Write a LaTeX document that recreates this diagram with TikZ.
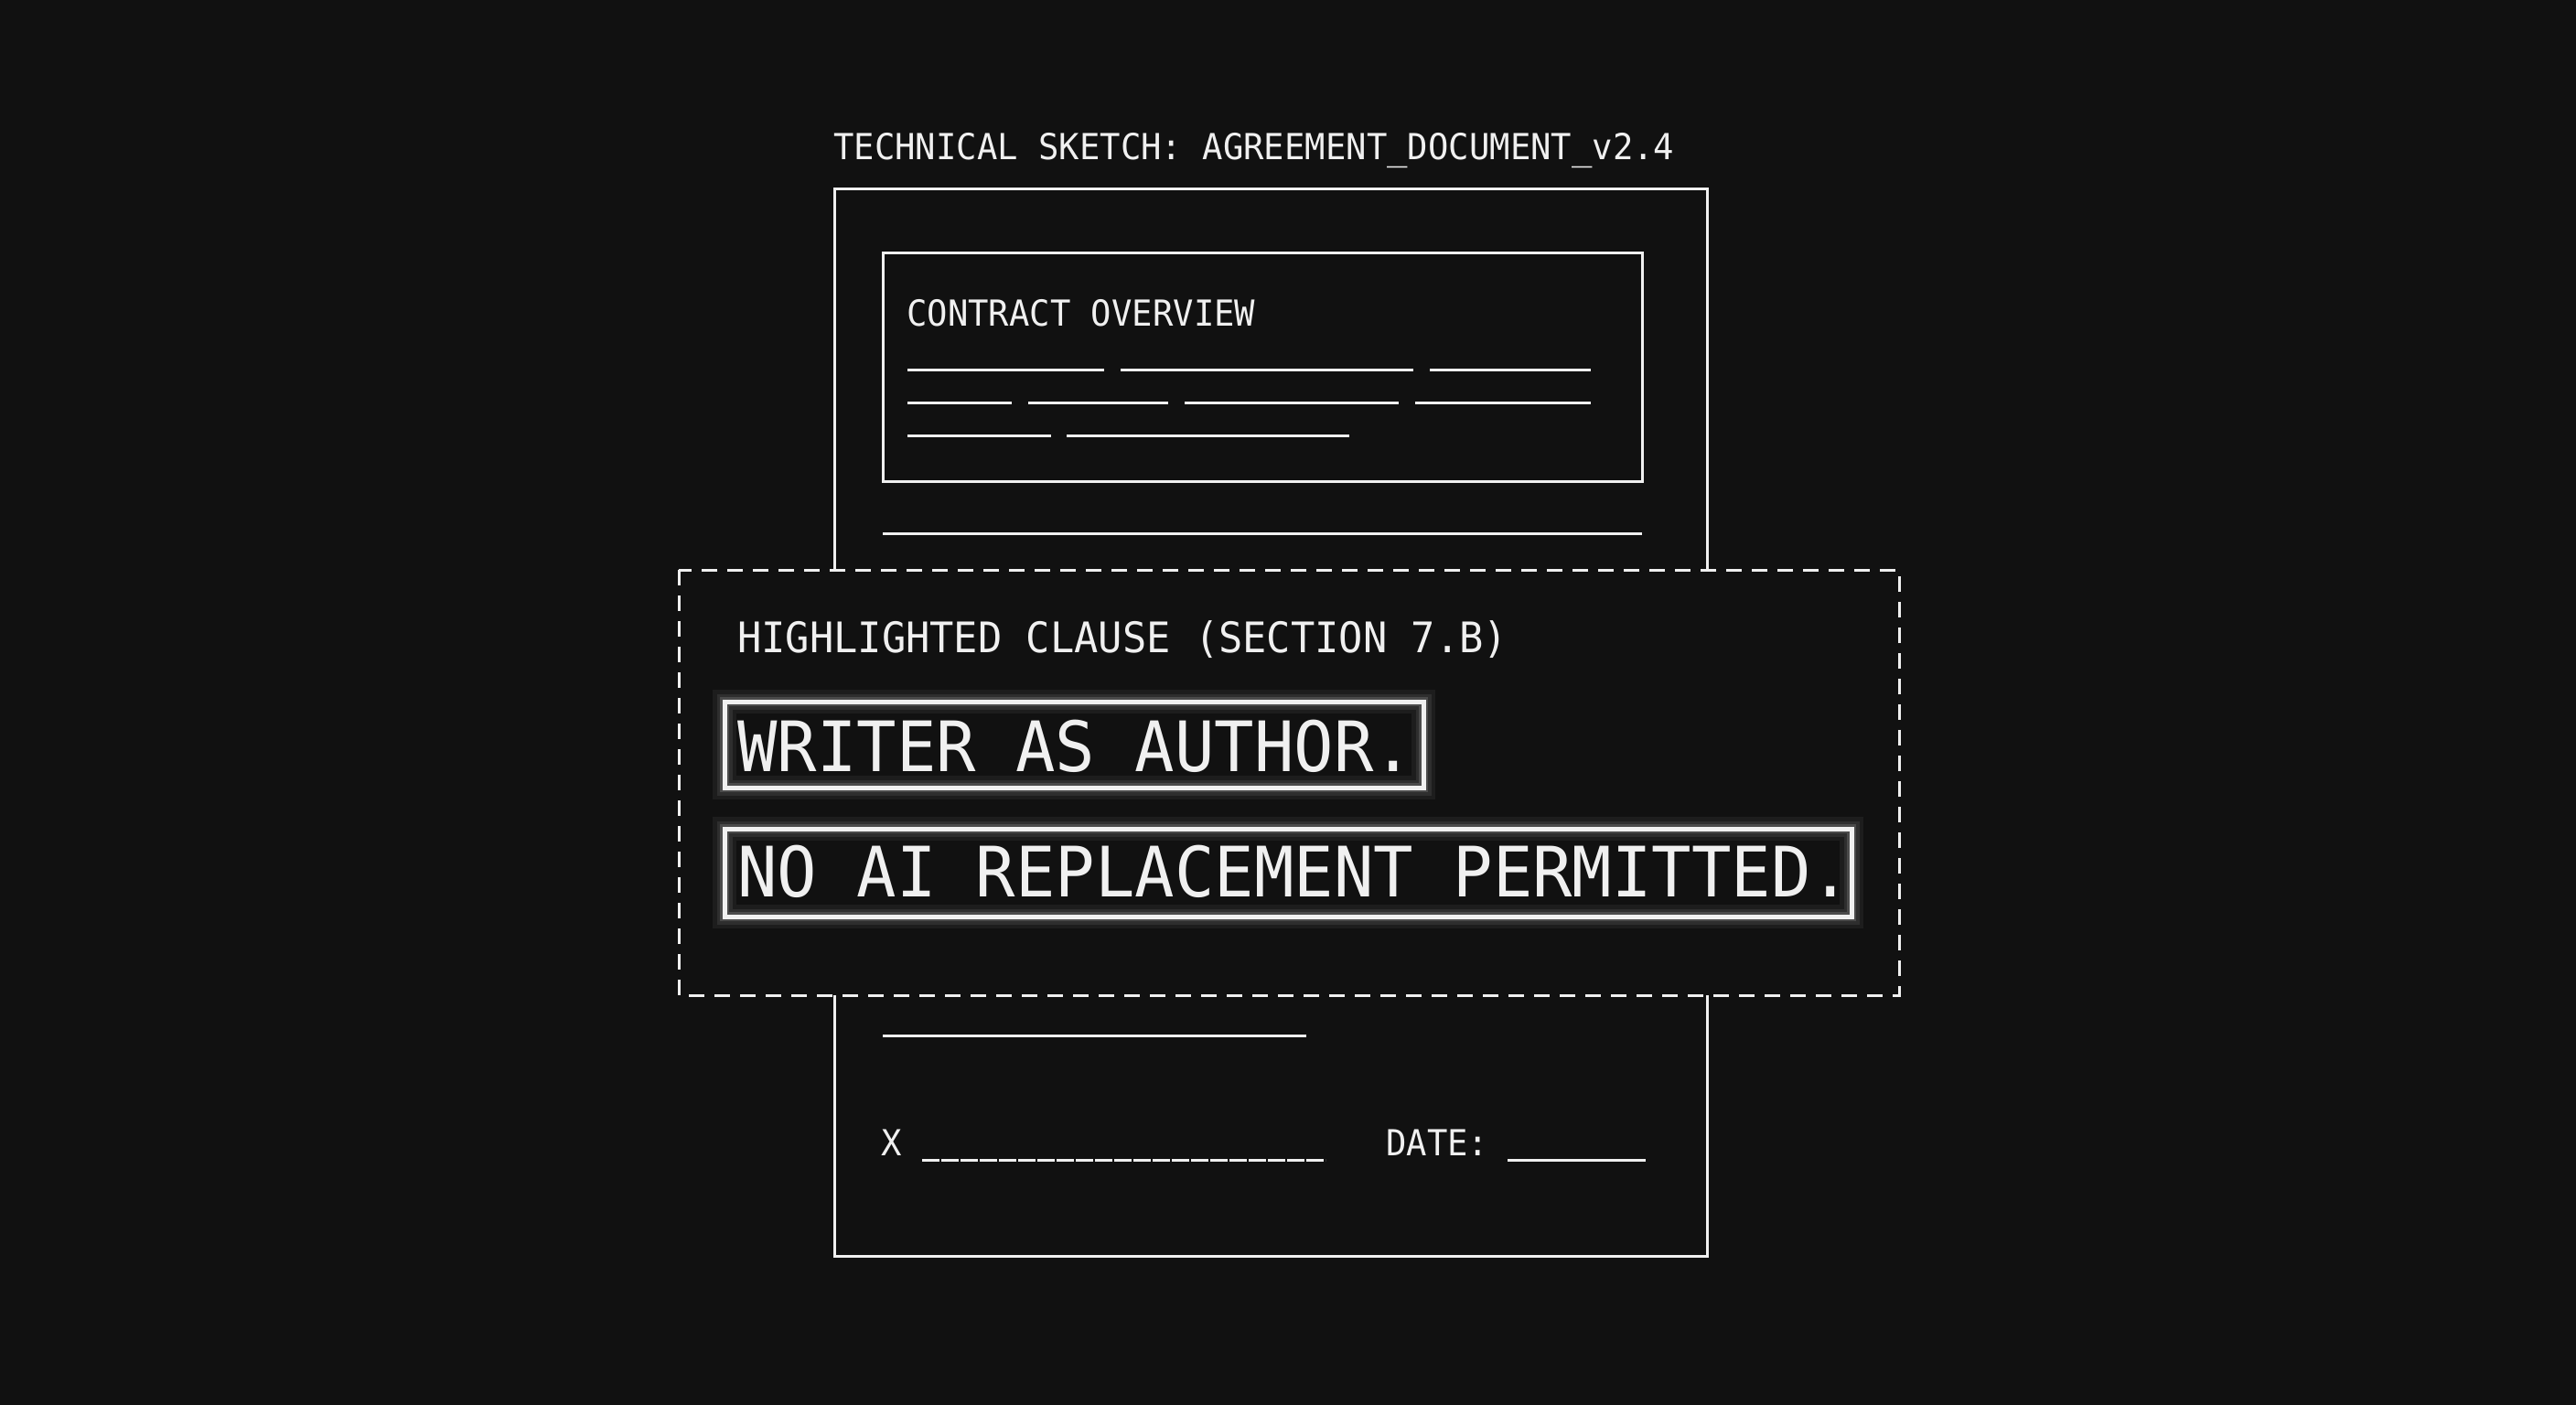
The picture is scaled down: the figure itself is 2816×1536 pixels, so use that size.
\documentclass[tikz,border=0pt]{standalone}
\usepackage{fontspec}
\newfontfamily\sketchfont[FakeStretch=0.95]{DejaVu Sans Mono}
\definecolor{bg}{RGB}{17,17,17}
\definecolor{ink}{RGB}{240,240,240}

\begin{document}
\begin{tikzpicture}[x=1pt, y=-1pt]
        \tikzstyle{sheet} = [draw=ink, line width=3pt]
        \tikzstyle{rule} = [draw=ink, line width=3pt]
        \tikzstyle{clausebox} = [draw=ink, fill=bg, line width=3pt, dash pattern=on 17pt off 11pt]
        \tikzstyle{glowbox} = [draw=ink, line width=5pt,
            preaction={draw=white, opacity=0.05, line width=26pt},
            preaction={draw=white, opacity=0.08, line width=17pt},
            preaction={draw=white, opacity=0.14, line width=10pt}]
        \tikzstyle{smalltext} = [inner sep=0pt, anchor=base west, text=ink, font=\sketchfont\fontsize{39.2}{40}\selectfont]
        \tikzstyle{headtext} = [smalltext, font=\sketchfont\fontsize{46}{46}\selectfont]
        \tikzstyle{bigtext} = [smalltext, font=\sketchfont\fontsize{76}{76}\selectfont]

        \fill[bg] (0,0) rectangle (2816,1536);
        \useasboundingbox (0,0) rectangle (2816,1536);

        \node (title) [smalltext] at (911,175) {TECHNICAL SKETCH: AGREEMENT\_DOCUMENT\_v2.4};
        \draw[sheet] (912,206) rectangle (1866,1373);

        \draw[rule] (965,276) rectangle (1795,526);
        \node (overview) [smalltext] at (991,356) {CONTRACT OVERVIEW};
        \foreach \a/\b in {992/1207, 1225/1545, 1563/1739}
            \draw[rule] (\a,404) -- (\b,404);
        \foreach \a/\b in {992/1106, 1124/1277, 1295/1529, 1547/1739}
            \draw[rule] (\a,440) -- (\b,440);
        \foreach \a/\b in {992/1149, 1166/1475}
            \draw[rule] (\a,476) -- (\b,476);
        \draw[rule] (965,583) -- (1795,583);

        \draw[clausebox] (742,623) rectangle (2076,1088);
        \node (clausehead) [headtext] at (806,713) {HIGHLIGHTED CLAUSE (SECTION 7.B)};
        \draw[glowbox] (792,767) rectangle (1556,861);
        \node (author) [bigtext] at (806,843) {WRITER AS AUTHOR.};
        \draw[glowbox] (792,906) rectangle (2024,1002);
        \node (noai) [bigtext] at (806,980) {NO AI REPLACEMENT PERMITTED.};

        \draw[rule] (965,1132) -- (1428,1132);
        \node (sign) [smalltext] at (963,1263) {X};
        \draw[rule, dash pattern=on 19pt off 2pt] (1008,1268) -- (1449,1268);
        \node (date) [smalltext] at (1515,1263) {DATE:};
        \draw[rule] (1648,1268) -- (1799,1268);
\end{tikzpicture}
\end{document}
